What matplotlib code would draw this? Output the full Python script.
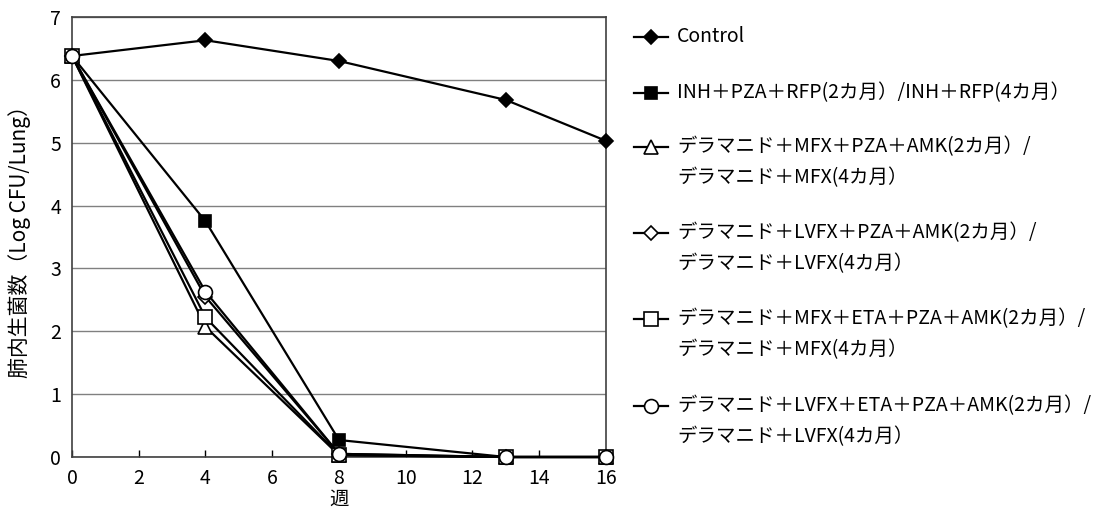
import matplotlib
matplotlib.use('Agg')
import matplotlib.pyplot as plt

plt.rcParams['font.family'] = ['Noto Sans CJK JP', 'DejaVu Sans']

weeks = [0, 4, 8, 13, 16]

control = [6.38, 6.63, 6.30, 5.68, 5.03]
inh_pza_rfp = [6.38, 3.75, 0.27, 0.0, 0.0]
dlm_mfx = [6.38, 2.07, 0.03, 0.0, 0.0]
dlm_lvfx = [6.38, 2.55, 0.05, 0.0, 0.0]
dlm_mfx_eta = [6.38, 2.22, 0.03, 0.0, 0.0]
dlm_lvfx_eta = [6.38, 2.63, 0.05, 0.0, 0.0]

labels = [
    ['Control'],
    ['INH＋PZA＋RFP(2カ月）/INH＋RFP(4カ月）'],
    ['デラマニド＋MFX＋PZA＋AMK(2カ月）/', 'デラマニド＋MFX(4カ月）'],
    ['デラマニド＋LVFX＋PZA＋AMK(2カ月）/', 'デラマニド＋LVFX(4カ月）'],
    ['デラマニド＋MFX＋ETA＋PZA＋AMK(2カ月）/', 'デラマニド＋MFX(4カ月）'],
    ['デラマニド＋LVFX＋ETA＋PZA＋AMK(2カ月）/', 'デラマニド＋LVFX(4カ月）'],
]

series = [control, inh_pza_rfp, dlm_mfx, dlm_lvfx, dlm_mfx_eta, dlm_lvfx_eta]
styles = [
    dict(marker='D', mfc='black', ms=7.5),
    dict(marker='s', mfc='black', ms=9),
    dict(marker='^', mfc='white', ms=9.5),
    dict(marker='D', mfc='white', ms=7.5),
    dict(marker='s', mfc='white', ms=9.5),
    dict(marker='o', mfc='white', ms=10),
]

W, H = 1113, 526
fig = plt.figure(figsize=(W / 100, H / 100), dpi=100)
ax = fig.add_axes([72 / W, 1 - 457 / H, (606 - 72) / W, (457 - 17) / H])

for vals, st in zip(series, styles):
    ax.plot(weeks, vals, color='black', lw=1.6, mec='black', mew=1.2,
            clip_on=False, zorder=3, **st)

ax.set_xlim(0, 16)
ax.set_ylim(0, 7)
ax.set_xticks(range(0, 17, 2))
ax.set_yticks(range(0, 8))
ax.yaxis.grid(True, color='#808080', lw=1.0)
ax.set_axisbelow(True)
ax.tick_params(axis='x', direction='in', length=5, width=1, labelsize=14, pad=8)
ax.tick_params(axis='y', length=0, labelsize=14, pad=8)
for s in ax.spines.values():
    s.set_color('#404040')
    s.set_linewidth(1.2)
ax.set_xlabel('週', fontsize=14, labelpad=0)
ax.set_ylabel('肺内生菌数（Log CFU/Lung）', fontsize=15, labelpad=14)

# legend drawn by hand in pixel coordinates
lg = fig.add_axes([0, 0, 1, 1])
lg.set_xlim(0, W)
lg.set_ylim(H, 0)
lg.axis('off')
rows = [37, 93, 147, 233, 319, 406]
line_gap = 31
for y, lab, st in zip(rows, labels, styles):
    lg.plot([634, 668], [y, y], color='black', lw=1.6)
    lg.plot([651], [y], color='black', mec='black', mew=1.2, **st)
    for i, t in enumerate(lab):
        lg.text(677, y + i * line_gap, t, fontsize=14, va='center', ha='left')

fig.savefig('out.png', dpi=100)
